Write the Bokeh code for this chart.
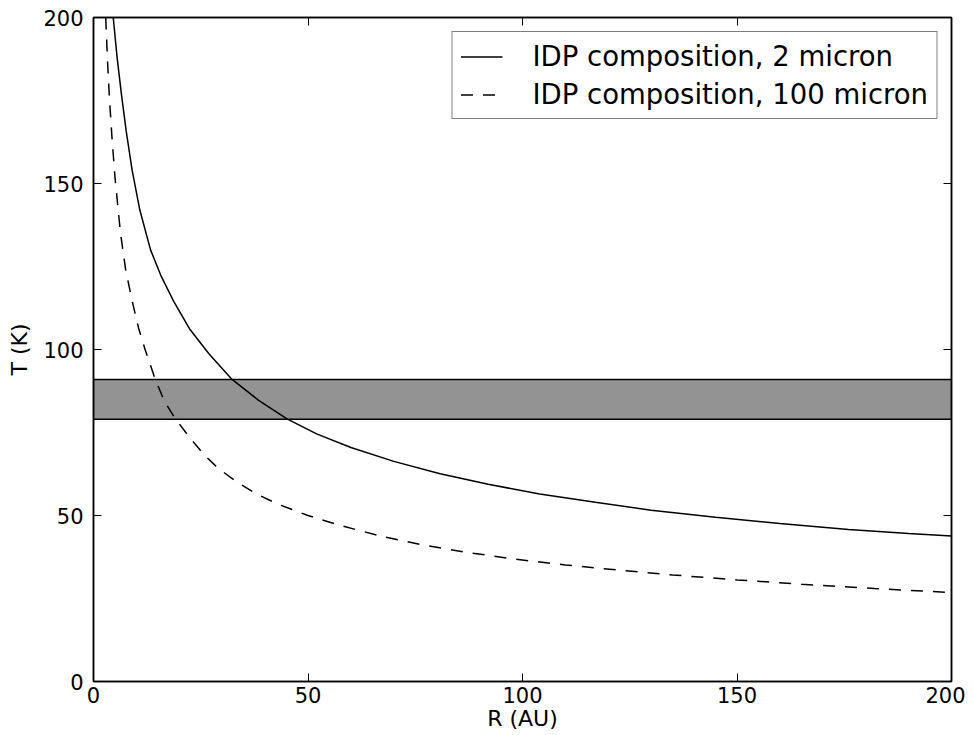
from bokeh.plotting import figure
from bokeh.models import (Range1d, LinearAxis, FixedTicker, BoxAnnotation,
                          Legend, LegendItem)
from bokeh.embed import file_html
from bokeh.resources import INLINE

# ---- data ----
r_2micron = [4.6, 5.5, 6.5, 7.6, 9.0, 10.8, 13.3, 15.8, 18.7, 22.5, 26.9, 32.3,
             38.5, 45.1, 52, 60, 70, 80.8, 92, 104, 117, 130, 145, 160, 176,
             190, 200]
t_2micron = [200, 188, 177, 166, 154, 142, 130, 122, 114.5, 106, 98.7, 91,
             84.7, 79.1, 74.6, 70.5, 66.3, 62.6, 59.4, 56.5, 54.0, 51.6, 49.5,
             47.6, 45.8, 44.6, 43.8]

r_100micron = [2.85, 3.3, 3.75, 4.3, 5.0, 6.3, 7.5, 9.0, 10.5, 12.1, 14.4, 16.5,
               19.1, 22.6, 26, 29, 33.5, 38, 43, 50, 57.5, 67, 76, 87, 98, 110,
               122, 135, 150, 165, 182, 200]
t_100micron = [200, 186, 175, 164, 152, 135, 124, 114.7, 106.5, 99.7, 91, 84.5,
               79.1, 73.2, 68.0, 64.3, 60.0, 56.5, 53.4, 50.0, 47.0, 43.8, 41.3,
               38.9, 36.9, 35.1, 33.6, 32.1, 30.6, 29.3, 28.0, 26.8]

band_low = 79
band_high = 91

x_ticks = [0, 50, 100, 150, 200]
y_ticks = [0, 50, 100, 150, 200]

labels = ["IDP composition, 2 micron", "IDP composition, 100 micron"]

FONT = "DejaVu Sans"

p = figure(width=965, height=733,
           x_range=Range1d(0, 200), y_range=Range1d(0, 200),
           output_backend="svg", toolbar_location=None,
           min_border_left=93, min_border_right=14,
           min_border_top=17, min_border_bottom=52,
           x_axis_label="R (AU)", y_axis_label="T (K)")
p.grid.visible = False
p.outline_line_color = "black"
p.outline_line_width = 1.5
p.background_fill_color = "white"
p.border_fill_color = "white"

for ax, ticks in ((p.xaxis[0], x_ticks), (p.yaxis[0], y_ticks)):
    ax.ticker = FixedTicker(ticks=ticks)
    ax.major_tick_in = 8
    ax.major_tick_out = 0
    ax.minor_tick_line_color = None
    ax.major_tick_line_color = "black"
    ax.major_tick_line_width = 1
    ax.axis_line_color = "black"
    ax.axis_line_width = 1.5
    ax.major_label_text_font = FONT
    ax.major_label_text_font_size = "21px"
    ax.major_label_text_color = "black"
    ax.axis_label_text_font = FONT
    ax.axis_label_text_font_size = "22px"
    ax.axis_label_text_font_style = "normal"
    ax.axis_label_text_color = "black"

p.xaxis[0].major_label_standoff = 5
p.xaxis[0].axis_label_standoff = 0
p.yaxis[0].major_label_standoff = 10
p.yaxis[0].axis_label_standoff = 8

# top and right axes: ticks only, no labels
top = LinearAxis(ticker=FixedTicker(ticks=x_ticks), major_tick_in=8,
                 major_tick_out=0, minor_tick_line_color=None,
                 major_label_overrides={t: "" for t in x_ticks},
                 major_label_standoff=0, axis_line_width=1.5)
right = LinearAxis(ticker=FixedTicker(ticks=y_ticks), major_tick_in=8,
                   major_tick_out=0, minor_tick_line_color=None,
                   major_label_overrides={t: "" for t in y_ticks},
                   major_label_standoff=0, axis_line_width=1.5)
p.add_layout(top, "above")
p.add_layout(right, "right")

band = BoxAnnotation(bottom=band_low, top=band_high, fill_color="#939393",
                     fill_alpha=1.0, line_color="black", line_alpha=1.0,
                     line_width=1.5, level="underlay")
p.add_layout(band)

l1 = p.line(r_2micron, t_2micron, line_color="black", line_width=1.5)
l2 = p.line(r_100micron, t_100micron, line_color="black", line_width=1.5,
            line_dash="12 10")

legend = Legend(items=[LegendItem(label=labels[0], renderers=[l1]),
                       LegendItem(label=labels[1], renderers=[l2])],
                location="top_right", margin=14,
                label_text_font=FONT, label_text_font_size="27.5px",
                label_text_color="black",
                glyph_width=42, glyph_height=31, label_height=31,
                label_standoff=30, spacing=6, padding=8,
                border_line_color="black", border_line_width=1.5,
                background_fill_color="white", background_fill_alpha=1.0)
p.add_layout(legend)

open("out.html", "w").write(file_html(p, INLINE))
